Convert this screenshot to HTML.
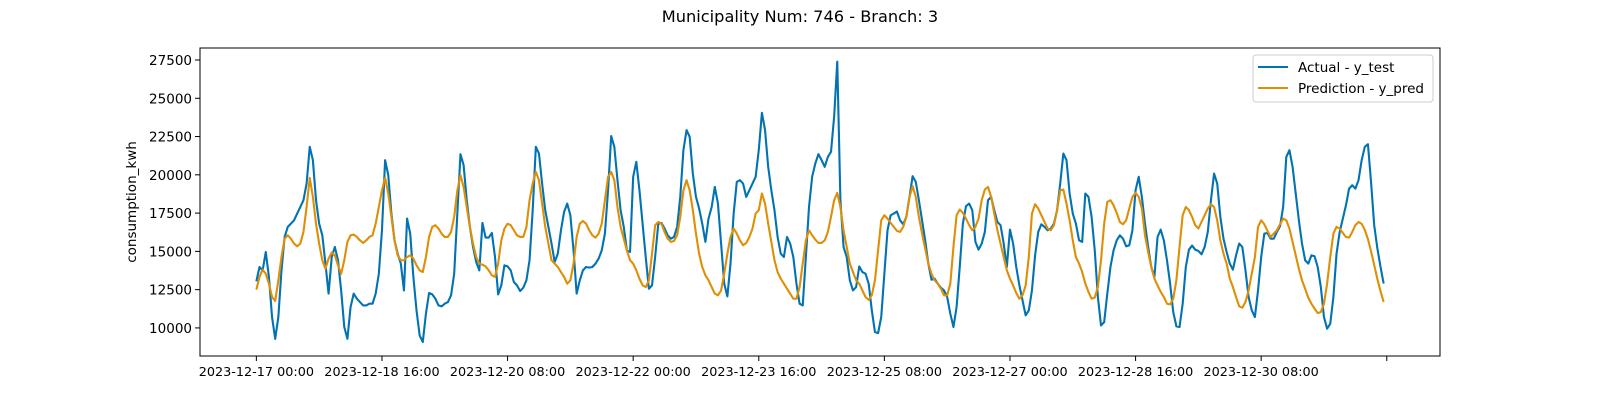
<!DOCTYPE html>
<html><head><meta charset="utf-8"><style>
html,body{margin:0;padding:0;background:#fff}
svg{display:block;font-family:"DejaVu Sans","Liberation Sans",sans-serif}
</style></head><body>
<svg id="chart" width="1600" height="400" viewBox="0 0 1600 400" xmlns="http://www.w3.org/2000/svg">
<rect width="1600" height="400" fill="#fff"/>
<text x="800" y="22" text-anchor="middle" font-size="16.2" fill="#000">Municipality Num: 746 - Branch: 3</text>
<text transform="translate(136,202) rotate(-90)" text-anchor="middle" font-size="13.5" fill="#000">consumption_kwh</text>
<g id="grid"></g>
<g id="series"></g>
<rect x="200" y="48" width="1240" height="308" fill="none" stroke="#000" stroke-width="1"/>
<g id="axes"></g>
<g>
<rect x="1253" y="55" width="180" height="47" rx="3" fill="#fff" fill-opacity="0.8" stroke="#ccc"/>
<line x1="1258" y1="67" x2="1288" y2="67" stroke="#0173B2" stroke-width="2.1"/>
<text x="1298" y="72" font-size="13.5">Actual - y_test</text>
<line x1="1258" y1="88" x2="1288" y2="88" stroke="#DE8F05" stroke-width="2.1"/>
<text x="1298" y="93" font-size="13.5">Prediction - y_pred</text>
</g>
</svg>
<script>
const startHour = 0;
const yTicks = [10000, 12500, 15000, 17500, 20000, 22500, 25000, 27500];
const xTickHours = [0, 40, 80, 120, 160, 200, 240, 280, 320, 360];
const xTickLabels = ["2023-12-17 00:00","2023-12-18 16:00","2023-12-20 08:00","2023-12-22 00:00","2023-12-23 16:00","2023-12-25 08:00","2023-12-27 00:00","2023-12-28 16:00","2023-12-30 08:00",""];
const actual = [
13040,13980,13760,14960,13330,10710,9290,10710,13760,15940,16600,16810,17030,17470,17900,18340,19430,21830,20960,18340,16810,16050,14200,12240,
14630,15290,14420,12450,10060,9290,11360,12240,11910,11690,11470,11470,11580,11580,12240,13540,16380,20960,19980,17470,15730,14850,14200,12450,
17140,16160,13330,11150,9510,9080,10930,12280,12190,11910,11470,11410,11580,11690,12130,13540,17470,21350,20630,18340,16600,15290,14310,13760,
16860,15900,15900,16200,14630,12190,12780,14090,14020,13760,13000,12780,12410,12630,13110,14420,17690,21830,21390,19430,17690,16600,15510,14310,
14850,16380,17580,18120,17360,15070,12240,13110,13760,13980,13940,13980,14200,14530,15070,16160,18990,22530,21830,19650,17690,16600,15070,14960,
19870,20850,18990,16810,14630,12560,12780,14630,16810,16860,16490,16050,15830,15940,16600,18560,21610,22920,22480,20080,18560,17800,16810,15620,
17140,17900,19210,18120,15510,12890,12060,14200,17470,19540,19650,19430,18560,18990,19430,19870,21610,24050,22920,20520,18990,17690,15940,14850,
14630,15940,15510,14630,12890,11580,11470,14630,17900,19870,20740,21350,20960,20520,21170,21500,23790,27390,18340,15290,14630,13110,12450,12670,
14020,13650,13540,12890,11150,9730,9660,10710,13540,16380,17360,17470,17600,17030,16770,17250,18560,19910,19540,18340,17030,15720,14200,13150,
13220,12890,12630,12450,12020,10930,10060,11360,13980,16810,17950,18120,17690,15620,15110,15510,16270,18340,18560,17690,16920,16710,15510,13980,
16420,15510,13980,12780,11800,10820,11150,12450,14740,16270,16770,16600,16380,16490,16810,17690,19430,21390,20960,18780,17470,16810,15720,15620,
18780,18560,17250,15070,12020,10160,10380,12240,13980,15070,15720,16050,15830,15330,15400,16380,18990,19870,18560,16810,15290,13980,13330,15940,
16420,15720,14420,12890,11040,10100,10060,11580,13980,15110,15380,15110,15030,14810,15290,16270,18340,20080,19430,17250,15830,14960,14200,13810,
14740,15510,15290,13760,12020,11150,10710,12450,14630,16160,16200,15830,15830,16270,16640,17900,21170,21610,20520,18780,17030,15510,14420,14200,
14740,14680,13980,12670,10710,9950,10280,12020,14850,16270,17140,18010,19100,19320,19100,19650,20960,21830,22000,19500,16700,15200,14000,12900];
const predicted = [
12500,13330,13810,13540,12890,12020,11760,13110,14630,15830,16050,15830,15510,15330,15510,16270,17900,19800,18560,16810,15510,14420,13870,14530,
14920,14740,14090,13540,14420,15620,16050,16100,15940,15720,15550,15720,15940,16050,16810,17900,18990,19800,18780,17250,15720,14740,14420,14420,
14630,14740,14530,14090,13760,13650,14630,15940,16600,16710,16490,16160,15940,15940,16270,17250,18990,19980,19210,17900,16600,15510,14630,14200,
14130,14020,13760,13440,13330,14200,15720,16490,16810,16710,16380,16050,15940,15940,16600,18340,19430,20190,19650,18120,16600,15510,14420,14200,
13980,13650,13330,12890,13110,14200,15940,16810,16990,16810,16380,16050,15900,16160,16810,18340,19870,20190,19650,17900,16600,15830,15070,14420,
14200,13760,13220,12780,12670,13110,14850,16710,16920,16810,16270,15830,15620,15680,16050,17250,18990,19650,18990,17690,16160,14850,13980,13440,
13110,12670,12240,12130,12450,13540,14850,15940,16490,16160,15720,15400,15550,15940,16490,17470,17690,18780,18120,16810,15620,14420,13650,13220,
12890,12560,12240,11910,11910,12670,14200,15720,16380,16050,15770,15550,15550,15720,16270,17250,18340,18820,17900,16380,15290,14200,13650,13110,
12890,12450,12020,11840,12130,13110,15070,17030,17360,17140,16860,16600,16340,16270,16600,17250,18560,19260,18560,17250,16160,15180,14200,13540,
13110,12890,12560,12130,12130,12890,15290,17360,17730,17510,17140,16710,16380,16600,17140,18340,19040,19210,18560,17470,16380,15510,14630,13760,
13220,12780,12280,11910,12130,12780,14630,17470,18080,17800,17360,16920,16490,16380,16710,17690,18990,19040,18120,17030,15720,14630,14200,13650,
12890,12350,11910,11980,12670,14420,16810,18230,18340,18010,17510,16920,16770,17030,17800,18560,18820,18560,17800,16050,14960,13980,13220,12780,
12350,12020,11580,11540,11910,13110,15290,17360,17900,17690,17250,16710,16490,16920,17360,17800,18080,17900,17030,15720,14850,14200,13220,12670,
12020,11410,11320,11690,12450,13540,14630,16600,17030,16770,16340,15940,16160,16380,16770,17140,17030,16490,15620,14740,13870,13110,12560,11980,
11580,11260,10970,11040,11580,12890,14630,16160,16600,16490,16200,15940,15900,16270,16710,16920,16800,16400,15800,15000,14100,13200,12400,11700];

const NS = "http://www.w3.org/2000/svg";
const plotL = 200, plotR = 1440, plotT = 48, plotB = 356;
const hMin = -17.95, hMax = 376.95;
const yMin = 8166, yMax = 28284;
function xScale(h){ return plotL + (h - hMin) / (hMax - hMin) * (plotR - plotL); }
function yScale(v){ return plotB - (v - yMin) / (yMax - yMin) * (plotB - plotT); }

const axes = document.getElementById('axes');
yTicks.forEach(function(t){
  const y = yScale(t);
  const tk = document.createElementNS(NS, 'line');
  tk.setAttribute('x1', plotL - 5); tk.setAttribute('x2', plotL);
  tk.setAttribute('y1', y); tk.setAttribute('y2', y);
  tk.setAttribute('stroke', '#000');
  
  
  axes.appendChild(tk);
  const lb = document.createElementNS(NS, 'text');
  lb.setAttribute('x', plotL - 8); lb.setAttribute('y', y + 5);
  lb.setAttribute('text-anchor', 'end'); lb.setAttribute('font-size', '13.5');
  lb.textContent = String(t);
  
  
  axes.appendChild(lb);
});
xTickHours.forEach(function(hh, i){
  const x = xScale(startHour + hh);
  const tk = document.createElementNS(NS, 'line');
  tk.setAttribute('x1', x); tk.setAttribute('x2', x);
  tk.setAttribute('y1', plotB); tk.setAttribute('y2', plotB + 5);
  tk.setAttribute('stroke', '#000');
  
  
  axes.appendChild(tk);
  const lb = document.createElementNS(NS, 'text');
  lb.setAttribute('x', x); lb.setAttribute('y', plotB + 20);
  lb.setAttribute('text-anchor', 'middle'); lb.setAttribute('font-size', '12.8');
  lb.textContent = xTickLabels[i];
  
  
  axes.appendChild(lb);
});

function drawLine(vals, color, name){
  const pts = vals.map(function(v, i){ return xScale(startHour + i).toFixed(2) + ',' + yScale(v).toFixed(2); }).join(' ');
  const pl = document.createElementNS(NS, 'polyline');
  pl.setAttribute('points', pts);
  pl.setAttribute('fill', 'none');
  pl.setAttribute('stroke', color);
  pl.setAttribute('stroke-width', '2.1');
  pl.setAttribute('stroke-linejoin', 'round');
  
  
  document.getElementById('series').appendChild(pl);
}
drawLine(actual, '#0173B2', 'actual-line');
drawLine(predicted, '#DE8F05', 'prediction-line');
</script>
</body></html>
